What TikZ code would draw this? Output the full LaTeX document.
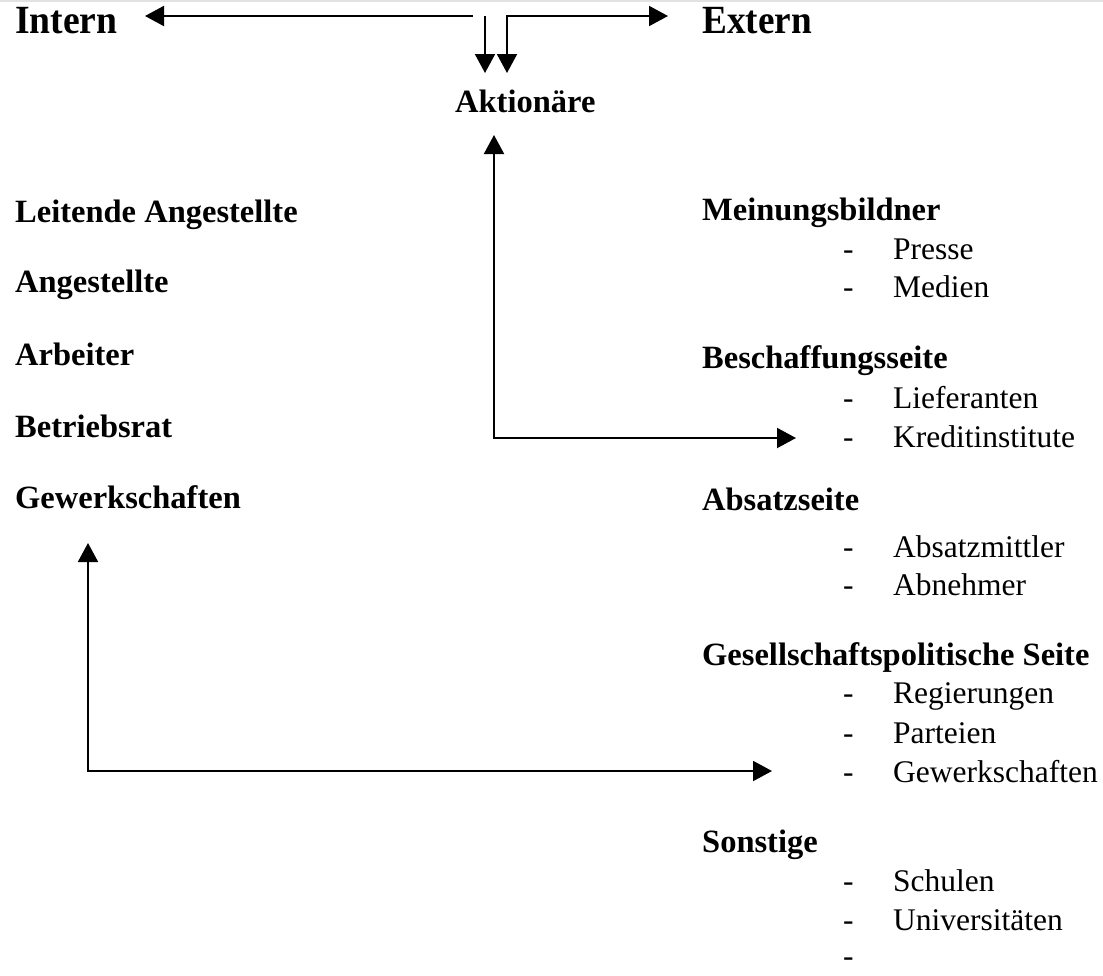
\documentclass[tikz,border=0pt]{standalone}
\usepackage{fontspec}
\setmainfont{Liberation Serif}
\usetikzlibrary{arrows.meta}
\definecolor{rulegray}{RGB}{226,226,226}
\begin{document}
\begin{tikzpicture}[x=1pt,y=-1pt,
  big/.style={anchor=base west,inner sep=0pt,font=\fontsize{40}{40}\selectfont\bfseries},
  head/.style={anchor=base west,inner sep=0pt,font=\fontsize{32.5}{32.5}\selectfont\bfseries},
  item/.style={anchor=base west,inner sep=0pt,font=\fontsize{31.5}{31.5}\selectfont},
  tip/.tip={Triangle[length=19pt,width=20pt]},
  arr/.style={line width=2pt,-tip},
  arr2/.style={line width=2pt,tip-tip}]
\useasboundingbox (0,0) rectangle (1103,975);
\draw[rulegray,line width=2pt] (0,1) -- (1103,1);

% top row
\node[big] (intern) at (15,33) {\scalebox{0.94}[1]{Intern}};
\node[big] (extern) at (702,33) {\scalebox{0.93}[1]{Extern}};
\node[head] (aktion) at (455,112) {Aktionäre};

% internal stakeholders
\node[head] (leit) at (15,222) {Leitende Angestellte};
\node[head] (angest) at (15,292) {Angestellte};
\node[head] (arb) at (15,365) {Arbeiter};
\node[head] (br) at (15,437) {Betriebsrat};
\node[head] (gewl) at (15,508) {Gewerkschaften};

% external stakeholders
\node[head] (mein) at (702,220) {Meinungsbildner};
\node[item] (d1) at (843,259) {-};  \node[item] (presse) at (893,259) {Presse};
\node[item] (d2) at (843,297) {-};  \node[item] (medien) at (893,297) {Medien};
\node[head] (besch) at (702,368) {Beschaffungsseite};
\node[item] (d3) at (843,408) {-};  \node[item] (liefer) at (893,408) {Lieferanten};
\node[item] (d4) at (843,447) {-};  \node[item] (kredit) at (893,447) {Kreditinstitute};
\node[head] (absatz) at (702,510) {Absatzseite};
\node[item] (d5) at (843,557) {-};  \node[item] (amitt) at (893,557) {Absatzmittler};
\node[item] (d6) at (843,595) {-};  \node[item] (abn) at (893,595) {Abnehmer};
\node[head] (gesell) at (702,665) {Gesellschaftspolitische Seite};
\node[item] (d7) at (843,703) {-};  \node[item] (reg) at (893,703) {Regierungen};
\node[item] (d8) at (843,743) {-};  \node[item] (part) at (893,743) {Parteien};
\node[item] (d9) at (843,782) {-};  \node[item] (gewr) at (893,782) {Gewerkschaften};
\node[head] (sonst) at (702,852) {Sonstige};
\node[item] (d10) at (843,891) {-}; \node[item] (schul) at (893,891) {Schulen};
\node[item] (d11) at (843,930) {-}; \node[item] (uni) at (893,930) {Universitäten};
\node[item] (d12) at (843,966) {-};

% connector end points
\coordinate (lsplit) at (473,16);
\coordinate (lfork) at (485,16);
\coordinate (tointern) at (145,16);
\coordinate (toextern) at (668,16);
\coordinate (aktdownl) at (485,73);
\coordinate (aktdownr) at (507,73);
\coordinate (aktup) at (494,135);
\coordinate (tokredit) at (796,438);
\coordinate (gewup) at (88,543);
\coordinate (togew) at (772,771);

% arrows
\draw[arr] (lsplit) -- (tointern);
\draw[arr] (lfork) -- (aktdownl);
\draw[arr2] (aktdownr) |- (toextern);
\draw[arr2] (aktup) |- (tokredit);
\draw[arr2] (gewup) |- (togew);
\end{tikzpicture}
\end{document}
